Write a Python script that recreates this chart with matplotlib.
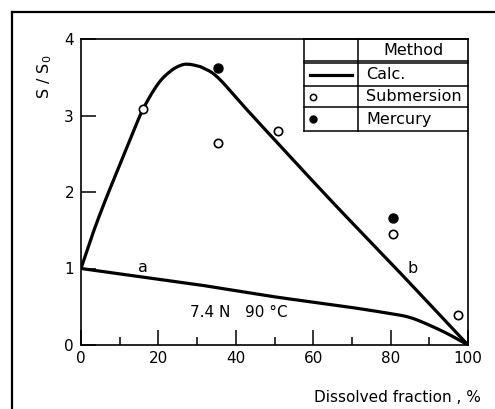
import matplotlib
matplotlib.use("Agg")
import numpy as np
import matplotlib.pyplot as plt
from matplotlib.lines import Line2D

# Calculated curve b (surface ratio rising to a maximum, then falling)
calc_b_x = [0, 3, 6.2, 9.5, 12.8, 16.1, 20, 23.4, 26, 27.7, 29.5, 31.6, 35.5, 43.7, 64, 81.4, 100]
calc_b_y = [1.0, 1.45, 1.88, 2.29, 2.70, 3.09, 3.42, 3.59, 3.66, 3.67, 3.655, 3.62, 3.49, 3.03, 1.92, 1.0, 0.0]

# Calculated curve a (monotonic decrease)
calc_a_x = [0, 10, 20, 30, 40, 50, 60, 70, 80, 85, 90, 95, 100]
calc_a_y = [1.0, 0.93, 0.86, 0.79, 0.71, 0.63, 0.56, 0.49, 0.41, 0.36, 0.26, 0.14, 0.0]

# Measurements
sub_x = [16.1, 35.5, 50.9, 80.5, 97.3]
sub_y = [3.09, 2.64, 2.80, 1.45, 0.39]
hg_x = [35.5, 80.5]
hg_y = [3.62, 1.66]

x_ticks = [0, 20, 40, 60, 80, 100]
y_ticks = [0, 1, 2, 3, 4]
legend_rows = ["Calc.", "Submersion", "Mercury"]


def smooth_path(xs, ys, steps=12):
    """Catmull-Rom path through the given points, for a smooth drawn line."""
    p = np.column_stack([xs, ys]).astype(float)
    p = np.vstack([2 * p[0] - p[1], p, 2 * p[-1] - p[-2]])
    out = []
    t = np.linspace(0, 1, steps, endpoint=False)[:, None]
    for i in range(1, len(p) - 2):
        p0, p1, p2, p3 = p[i - 1], p[i], p[i + 1], p[i + 2]
        seg = 0.5 * ((2 * p1) + (-p0 + p2) * t + (2 * p0 - 5 * p1 + 4 * p2 - p3) * t ** 2
                     + (-p0 + 3 * p1 - 3 * p2 + p3) * t ** 3)
        out.append(seg)
    out.append(p[-2][None, :])
    out = np.vstack(out)
    return out[:, 0], out[:, 1]


plt.rcParams["font.family"] = "DejaVu Sans"
fig = plt.figure(figsize=(4.95, 4.09), dpi=100)
ax = fig.add_axes([81 / 495, 1 - 345 / 409, 387 / 495, 306 / 409])

lw = 2.3
bx, by = smooth_path(calc_b_x, calc_b_y)
axx, ayy = smooth_path(calc_a_x, calc_a_y)
ax.plot(bx, by, color="black", lw=lw, solid_capstyle="round", solid_joinstyle="round", zorder=3)
ax.plot(axx, ayy, color="black", lw=lw, solid_capstyle="round", solid_joinstyle="round", zorder=3)
ax.plot(sub_x, sub_y, "o", ms=6, mfc="white", mec="black", mew=1.2, zorder=4)
ax.plot(hg_x, hg_y, "o", ms=6.5, mfc="black", mec="black", zorder=4)

ax.set_xlim(0, 100)
ax.set_ylim(0, 4)
ax.set_xticks(x_ticks)
ax.set_xticks([10, 30, 50, 70, 90], minor=True)
ax.set_yticks(y_ticks)
ax.tick_params(axis="both", direction="in", length=10.5, width=1.1, labelsize=11)
ax.tick_params(axis="x", which="minor", direction="in", length=5.5, width=1.1)
ax.tick_params(axis="x", pad=4)
ax.tick_params(axis="y", pad=5)
ax.tick_params(top=False, right=False)
for s in ax.spines.values():
    s.set_linewidth(1.2)

ax.text(-0.095, 0.875, "S / S$_0$", transform=ax.transAxes, rotation=90,
        ha="center", va="center", fontsize=11.5)
ax.text(1.032, -0.17, "Dissolved fraction , %", transform=ax.transAxes,
        ha="right", va="center", fontsize=11)
ax.text(16.0, 1.01, "a", ha="center", va="center", fontsize=11.5)
ax.text(85.8, 1.0, "b", ha="center", va="center", fontsize=11.5)
ax.text(40.8, 0.42, "7.4 N   90 °C", ha="center", va="center", fontsize=11)

# Legend drawn as a ruled table in the upper right corner
tx0, tdiv, tx1 = 0.576, 0.7165, 1.0
row_y = [1.0, 0.928, 0.9216, 0.846, 0.778, 0.699]
tk = dict(transform=ax.transAxes, color="black", lw=1.1, clip_on=False)
for yv in row_y:
    ax.add_line(Line2D([tx0, tx1], [yv, yv], **tk))
ax.add_line(Line2D([tx0, tx0], [row_y[0], row_y[-1]], **tk))
ax.add_line(Line2D([tdiv, tdiv], [row_y[0], row_y[-1]], **tk))
ax.text((tdiv + tx1) / 2, (row_y[0] + row_y[1]) / 2, "Method", transform=ax.transAxes,
        ha="center", va="center", fontsize=11.5)
centers = [(row_y[i] + row_y[i + 1]) / 2 for i in (2, 3, 4)]
for label, yc in zip(legend_rows, centers):
    ax.text(tdiv + 0.02, yc, label, transform=ax.transAxes, ha="left", va="center", fontsize=11.5)
ax.add_line(Line2D([0.592, 0.699], [centers[0], centers[0]], transform=ax.transAxes,
                   color="black", lw=lw))
ax.plot([0.600], [centers[1]], "o", ms=4.5, mfc="white", mec="black", mew=1.1,
        transform=ax.transAxes, clip_on=False)
ax.plot([0.600], [centers[2]], "o", ms=5, mfc="black", mec="black",
        transform=ax.transAxes, clip_on=False)

# Outer frame edges
fig.add_artist(Line2D([12 / 495, 12 / 495], [0, 1 - 12 / 409], color="black", lw=1.6,
                      transform=fig.transFigure))
fig.add_artist(Line2D([12 / 495, 1], [1 - 12 / 409, 1 - 12 / 409], color="black", lw=1.6,
                      transform=fig.transFigure))

fig.savefig("out.png", dpi=100)
